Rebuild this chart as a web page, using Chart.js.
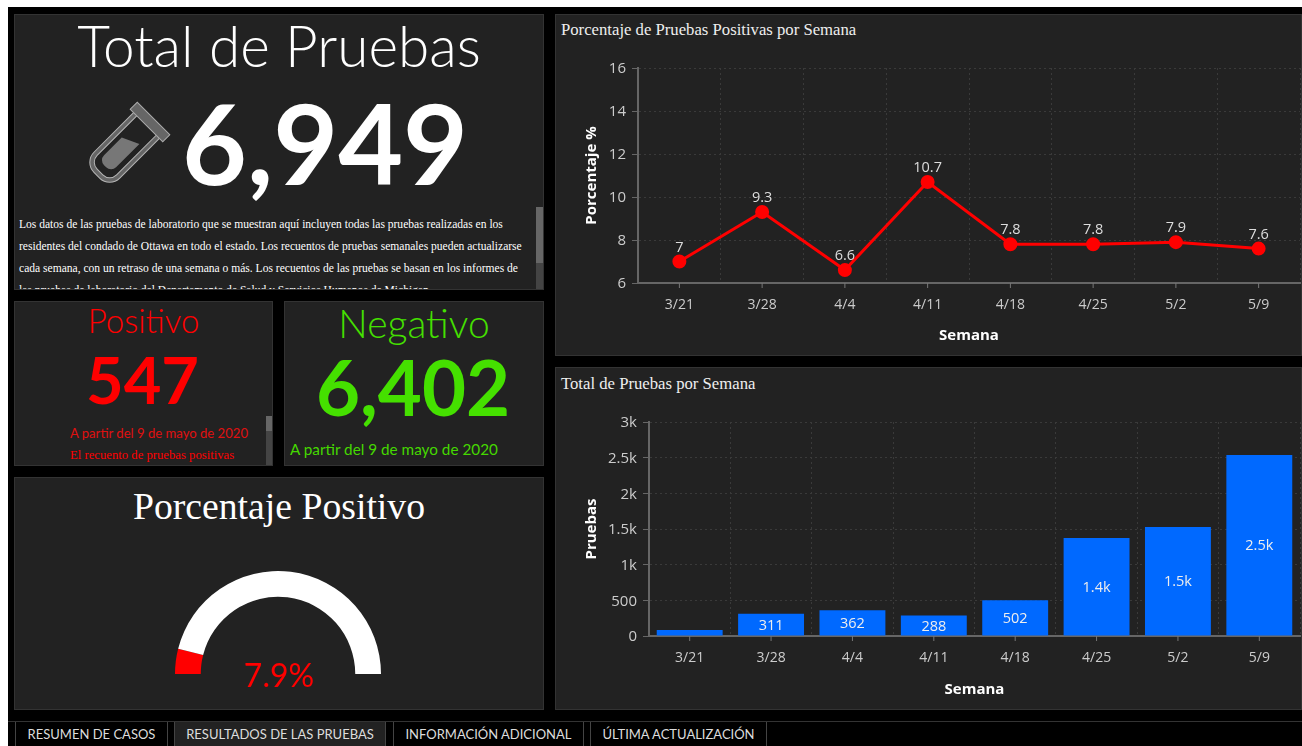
<!DOCTYPE html>
<html lang="es">
<head>
<meta charset="UTF-8">
<title>Resultados de las pruebas</title>
<script src="https://cdn.jsdelivr.net/npm/chart.js"></script>
<style>
  html, body { margin: 0; padding: 0; background: #fff; overflow: hidden; }
  #page { position: absolute; left: 8px; top: 7px; width: 1294px; height: 739px; background: #000; }
  .panel { position: absolute; background: #222; border: 1px solid #333; box-sizing: border-box; overflow: hidden; }
  .txt { position: absolute; white-space: nowrap; text-align: center; }
  .lato { font-family: Lato, sans-serif; }
  .serif { font-family: "Liberation Serif", serif; }
  .scroll { position: absolute; width: 7px; background: #444; }
  .scroll div { background: #666; width: 100%; }
  canvas { position: absolute; left: -1px; top: -1px; }
  #intro { position: absolute; left: 4px; top: 198px; width: 510px; color: #fff; font: 11.55px/22px "Liberation Serif", serif; }
  #tabs { position: absolute; left: 8px; top: 721px; width: 1294px; height: 25px; background: #000; border-top: 1px solid #333; box-sizing: border-box; }
  .tab { position: absolute; top: 0; height: 25px; box-sizing: border-box; border-left: 1px solid #444; border-right: 1px solid #444; background: #000; color: #ddd; font: 13px/25px Lato, sans-serif; text-align: center; }
  .tab.on { background: #222; }
</style>
</head>
<body>
<div id="page"></div>

<div class="panel" style="left:14px;top:14px;width:530px;height:276px">
  <div class="txt lato" style="left:0;width:528px;top:-3px;font-size:56.7px;line-height:66px;font-weight:300;color:#fff">Total de Pruebas</div>
  <svg style="position:absolute;left:60px;top:80px" width="110" height="100" viewBox="0 0 110 100">
    <g transform="translate(75 27) rotate(45)" fill="none">
      <path d="M-16 5 V61 a12 12 0 0 0 12 12 h8 a12 12 0 0 0 12 -12 V5" stroke="#b5b5b5" stroke-width="5.5"/>
      <path d="M-16 5 V61 a12 12 0 0 0 12 12 h8 a12 12 0 0 0 12 -12 V5" stroke="#666" stroke-width="3.5"/>
      <rect x="-23" y="-5" width="46" height="10" fill="#666" stroke="#aaa" stroke-width="1"/>
      <path d="M-9 31 L8 23 V56 a7 7 0 0 1 -7 7 h-3 a7 7 0 0 1 -7 -7 Z" fill="#777"/>
    </g>
  </svg>
  <div class="txt lato" style="left:167px;top:62px;font-size:112px;line-height:130px;font-weight:700;color:#fff">6,949</div>
  <div id="intro">Los datos de las pruebas de laboratorio que se muestran aquí incluyen todas las pruebas realizadas en los residentes del condado de Ottawa en todo el estado. Los recuentos de pruebas semanales pueden actualizarse cada semana, con un retraso de una semana o más. Los recuentos de las pruebas se basan en los informes de las pruebas de laboratorio del Departamento de Salud y Servicios Humanos de Michigan.</div>
  <div class="scroll" style="left:521px;top:192px;height:84px"><div style="height:56px"></div></div>
</div>

<div class="panel" style="left:14px;top:301px;width:259px;height:165px">
  <div class="txt lato" style="left:0;width:257px;top:-3px;font-size:33px;line-height:42px;font-weight:300;color:#f00">Positivo</div>
  <div class="txt lato" style="left:0;width:255px;top:38px;font-size:65px;line-height:78px;font-weight:700;color:#f00">547</div>
  <div class="txt lato" style="left:55px;top:122px;font-size:13.1px;line-height:18px;color:#e01010">A partir del 9 de mayo de 2020</div>
  <div class="txt serif" style="left:55px;top:144px;font-size:12.7px;line-height:18px;color:#f00">El recuento de pruebas positivas</div>
  <div class="scroll" style="left:251px;top:114px;height:51px"><div style="height:15px"></div></div>
</div>

<div class="panel" style="left:284px;top:301px;width:260px;height:165px">
  <div class="txt lato" style="left:0;width:258px;top:-1px;font-size:39px;line-height:44px;font-weight:300;color:#45e000">Negativo</div>
  <div class="txt lato" style="left:31px;top:39px;font-size:76px;line-height:92px;font-weight:700;color:#45e000">6,402</div>
  <div class="txt lato" style="left:5px;top:137px;font-size:15.3px;line-height:20px;color:#45d800">A partir del 9 de mayo de 2020</div>
</div>

<div class="panel" style="left:14px;top:477px;width:530px;height:233px">
  <div class="txt serif" style="left:0;width:528px;top:5px;font-size:37.7px;line-height:46px;color:#fff">Porcentaje Positivo</div>
  <canvas id="gauge" width="528" height="233"></canvas>
  <div class="txt lato" style="left:0;width:528px;top:177px;font-size:32px;line-height:40px;color:#f00" id="gaugeLabel"></div>
</div>

<div class="panel" style="left:555px;top:14px;width:747px;height:342px">
  <div class="txt serif" style="left:5px;top:5px;font-size:16.7px;line-height:20px;color:#eee">Porcentaje de Pruebas Positivas por Semana</div>
  <canvas id="lineChart" width="747" height="342"></canvas>
</div>

<div class="panel" style="left:555px;top:367px;width:747px;height:343px">
  <div class="txt serif" style="left:5px;top:6px;font-size:16.7px;line-height:20px;color:#eee">Total de Pruebas por Semana</div>
  <canvas id="barChart" width="747" height="343"></canvas>
</div>

<div id="tabs">
  <div class="tab" style="left:7px;width:153px">RESUMEN DE CASOS</div>
  <div class="tab on" style="left:166px;width:212px">RESULTADOS DE LAS PRUEBAS</div>
  <div class="tab" style="left:385px;width:191px">INFORMACIÓN ADICIONAL</div>
  <div class="tab" style="left:582px;width:177px">ÚLTIMA ACTUALIZACIÓN</div>
</div>

<script>
const weeks = ['3/21', '3/28', '4/4', '4/11', '4/18', '4/25', '5/2', '5/9'];
const positivePct = [7, 9.3, 6.6, 10.7, 7.8, 7.8, 7.9, 7.6];
const testsPerWeek = [84, 311, 362, 288, 502, 1374, 1528, 2537];
const testLabels = ['', '311', '362', '288', '502', '1.4k', '1.5k', '2.5k'];
const gaugeValue = 7.9;

const tickFont = { family: '"Open Sans", sans-serif', size: 14 };
const yTickFont = { family: '"Open Sans", sans-serif', size: 15 };
const titleFont = { family: '"Open Sans", sans-serif', size: 15, weight: 'bold' };

// ticks on the category centre, the grid lines stay between categories
const centreTicks = {
  id: 'centreTicks',
  afterDraw(chart) {
    const x = chart.scales.x, c = chart.ctx;
    c.save();
    c.strokeStyle = '#777';
    weeks.forEach((w, i) => {
      const px = x.getPixelForValue(i);
      c.beginPath();
      c.moveTo(px, x.top);
      c.lineTo(px, x.top + 5);
      c.stroke();
    });
    c.restore();
  }
};

// value labels, no datalabels plugin around
const lineLabels = {
  id: 'lineLabels',
  afterDatasetsDraw(chart) {
    const c = chart.ctx;
    c.save();
    c.font = '14.5px "Open Sans", sans-serif';
    c.fillStyle = '#ddd';
    c.textAlign = 'center';
    chart.getDatasetMeta(0).data.forEach((p, i) => c.fillText(positivePct[i], p.x, p.y - 10));
    c.restore();
  }
};
const barLabels = {
  id: 'barLabels',
  afterDatasetsDraw(chart) {
    const c = chart.ctx;
    c.save();
    c.font = '14.5px "Open Sans", sans-serif';
    c.fillStyle = '#eee';
    c.textAlign = 'center';
    c.textBaseline = 'middle';
    chart.getDatasetMeta(0).data.forEach((b, i) => c.fillText(testLabels[i], b.x, (b.y + b.base) / 2 + 1));
    c.restore();
  }
};

function axes(yOpts, yTitle, yWidth, xHeight) {
  return {
    x: {
      offset: true,
      afterFit: s => { s.height = xHeight; },
      grid: { offset: true, color: '#3a3a3a', drawTicks: false, tickLength: 0 },
      border: { color: '#666', width: 2, dash: [2, 3] },
      ticks: { color: '#ccc', font: tickFont, padding: 14, autoSkip: false, maxRotation: 0 },
      title: { display: true, text: 'Semana', color: '#fff', font: titleFont, padding: { top: 0, bottom: 11 } }
    },
    y: Object.assign({
      afterFit: s => { s.width = yWidth; },
      grid: { color: '#3a3a3a', tickColor: '#666', tickLength: 6, tickBorderDash: [] },
      border: { color: '#666', width: 2, dash: [2, 3] },
      title: { display: true, text: yTitle, color: '#fff', font: titleFont, padding: { top: 28, bottom: 0 } }
    }, yOpts)
  };
}

new Chart(document.getElementById('lineChart'), {
  type: 'line',
  data: {
    labels: weeks,
    datasets: [{
      data: positivePct,
      borderColor: '#f00',
      backgroundColor: '#f00',
      borderWidth: 3,
      pointRadius: 5.5,
      tension: 0
    }]
  },
  options: {
    responsive: false,
    animation: false,
    layout: { padding: { top: 54, right: 2, left: 0, bottom: 0 }, autoPadding: false },
    plugins: { legend: { display: false }, tooltip: { enabled: false } },
    scales: axes({ min: 6, max: 16, ticks: { stepSize: 2, color: '#ccc', font: yTickFont, padding: 6, labelOffset: 1 } }, 'Porcentaje %', 83, 73)
  },
  plugins: [centreTicks, lineLabels]
});

new Chart(document.getElementById('barChart'), {
  type: 'bar',
  data: {
    labels: weeks,
    datasets: [{
      data: testsPerWeek,
      backgroundColor: '#0069ff',
      categoryPercentage: 0.81,
      barPercentage: 1
    }]
  },
  options: {
    responsive: false,
    animation: false,
    layout: { padding: { top: 55, right: 2, left: 0, bottom: 0 }, autoPadding: false },
    plugins: { legend: { display: false }, tooltip: { enabled: false } },
    scales: axes({
      min: 0, max: 3000,
      ticks: { stepSize: 500, color: '#ccc', font: yTickFont, padding: 6, labelOffset: 1, callback: v => v >= 1000 ? (v / 1000) + 'k' : v }
    }, 'Pruebas', 94, 74)
  },
  plugins: [centreTicks, barLabels]
});

document.getElementById('gaugeLabel').textContent = gaugeValue + '%';
new Chart(document.getElementById('gauge'), {
  type: 'doughnut',
  data: {
    datasets: [{
      data: [gaugeValue, 100 - gaugeValue],
      backgroundColor: ['#f00', '#fff'],
      borderWidth: 0
    }]
  },
  options: {
    responsive: false,
    animation: false,
    rotation: -90,
    circumference: 180,
    cutout: '75%',
    layout: { padding: { top: 94, bottom: 36, left: 0, right: 0 } },
    plugins: { legend: { display: false }, tooltip: { enabled: false } }
  }
});
</script>
</body>
</html>
